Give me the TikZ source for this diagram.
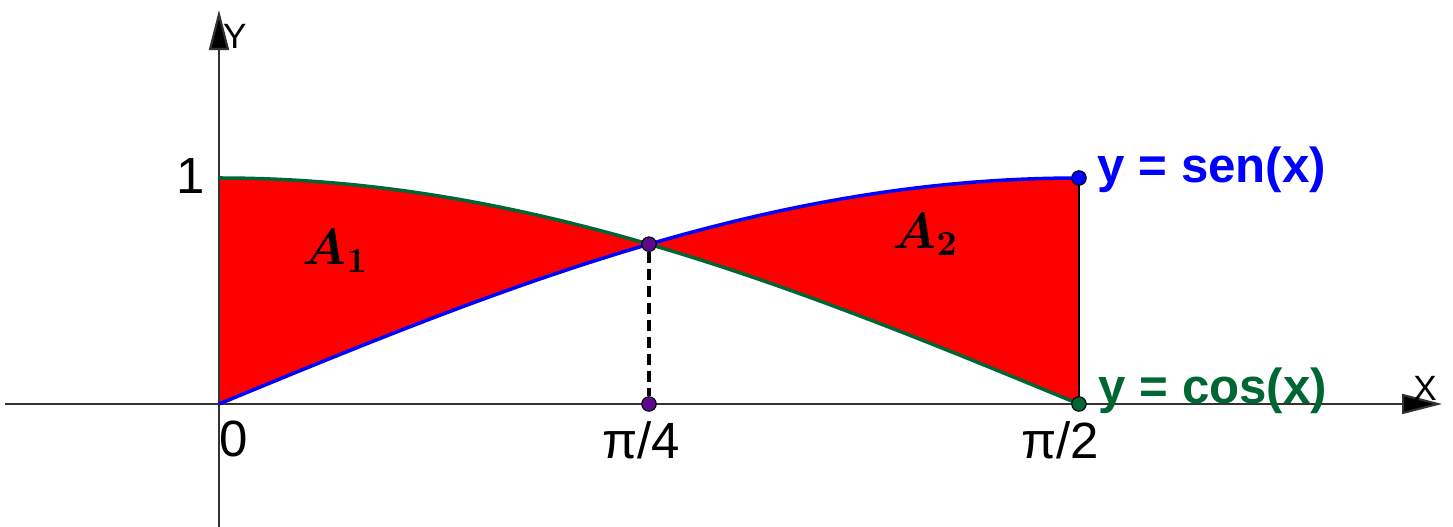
\documentclass[tikz,border=0pt]{standalone}
\usepackage{fontspec}
\setmainfont{Liberation Sans}
\usepackage{bm}
\usetikzlibrary{arrows.meta}
\definecolor{ggRed}{HTML}{FF0000}
\definecolor{ggBlue}{HTML}{0000FF}
\definecolor{ggGreen}{HTML}{006633}
\definecolor{ggPurple}{HTML}{5C0A8C}
\definecolor{ggAxis}{HTML}{333333}

\begin{document}
\begin{tikzpicture}[x=5.475cm, y=2.26cm,
    ax/.style={draw=ggAxis, line width=0.6pt, -{Triangle[length=4mm,width=2mm,fill=black]}},
    lab/.style={font=\fontsize{14.5}{17}\selectfont, inner sep=0pt},
    axn/.style={font=\fontsize{10}{12}\selectfont, inner sep=0pt},
    fn/.style={font=\fontsize{14}{16}\selectfont\bfseries, anchor=base west, inner sep=0pt},
    ar/.style={font=\fontsize{14.5}{17}\selectfont, anchor=base west, inner sep=0pt},
    dot/.style={circle, draw=black, line width=0.3pt, inner sep=0pt, minimum size=1.45mm}]
  \useasboundingbox (-0.4,-0.5442) rectangle (2.2539,1.7876);
  \coordinate (xl) at (-0.391,0);
  \coordinate (xr) at (2.234,0);
  \coordinate (yb) at (0,-0.5442);
  \coordinate (yt) at (0,1.743);
  \coordinate (pb) at ({pi/2},0);
  \coordinate (pt) at ({pi/2},1);
  % region between sen and cos
  \fill[ggRed] plot[domain=0:pi/2, samples=60] (\x,{cos(\x r)})
    -- (pt) -- plot[domain=pi/2:0, samples=60] (\x,{sin(\x r)}) -- cycle;
  \draw[ax] (xl) -- (xr);
  \draw[ax] (yb) -- (yt);
  \draw[black, line width=0.5pt] (pb) -- (pt);
  \draw[ggGreen, line width=1pt] plot[domain=0:pi/2, samples=60] (\x,{cos(\x r)});
  \draw[ggBlue, line width=1pt] plot[domain=0:pi/2, samples=60] (\x,{sin(\x r)});
  \node[dot, fill=ggPurple] (mid) at ({pi/4},{sqrt(2)/2}) {};
  \node[dot, fill=ggPurple] (foot) at ({pi/4},0) {};
  \node[dot, fill=ggBlue] (sn) at (pt) {};
  \node[dot, fill=ggGreen] (cs) at (pb) {};
  \draw[black, line width=1.3pt, dash pattern=on 1.1mm off 0.6mm] (mid) -- (foot);
  % labels
  \node[lab] (l1) at (-0.051,1.009) {1};
  \node[lab] (l0) at (0.0274,-0.155) {0};
  \node[lab] (lq) at (0.771,-0.159) {π/4};
  \node[lab] (lh) at (1.536,-0.159) {π/2};
  \node[axn] (ly) at (0.029,1.628) {Y};
  \node[axn] (lx) at (2.203,0.071) {X};
  \node[fn, text=ggBlue] (fs) at (1.6037,0.978) {y = sen(x)};
  \node[fn, text=ggGreen] (fc) at (1.6055,0.004) {y = cos(x)};
  \node[ar] (a1) at (0.1516,0.615) {$\bm{A_1}$};
  \node[ar] (a2) at (1.229,0.690) {$\bm{A_2}$};
\end{tikzpicture}
\end{document}
